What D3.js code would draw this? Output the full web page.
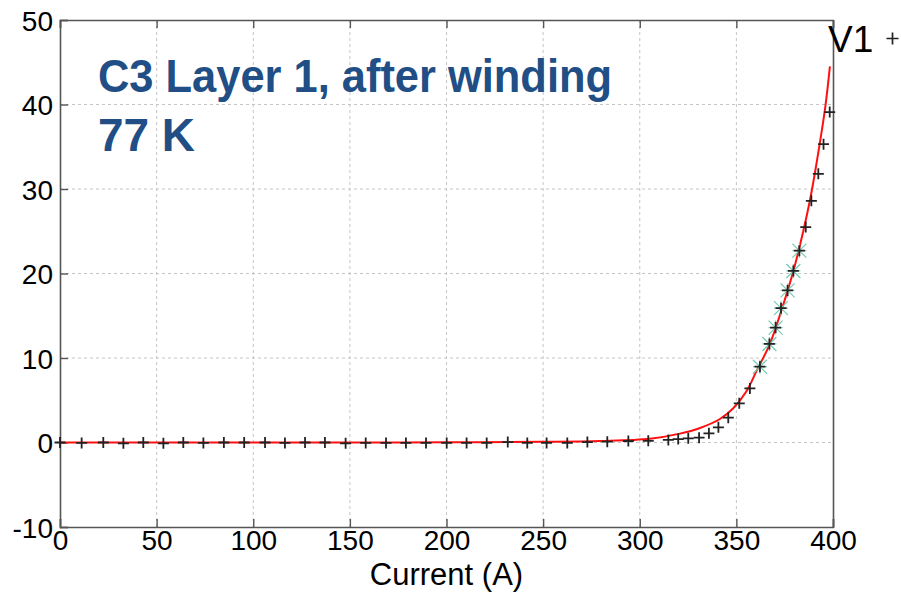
<!DOCTYPE html>
<html>
<head>
<meta charset="utf-8">
<script src="https://cdn.jsdelivr.net/npm/d3@7"></script>
<style>
  html, body { margin: 0; padding: 0; background: #fff; }
  svg { display: block; }
  text { font-family: "Liberation Sans", Arial, sans-serif; }
</style>
</head>
<body>
<svg id="chart" width="901" height="592"></svg>
<script>
// Measured voltage V1 (mV) against transport current (A)
const currentA = [0, 11.2, 22.4, 32.8, 43.1, 53.5, 63.8, 74.2, 84.8, 95.3, 106.1, 116.4,
  126.8, 137.1, 147.8, 158.2, 168.7, 179.0, 189.4, 200.1, 210.4, 220.8, 231.7, 241.8,
  251.8, 262.5, 272.9, 283.2, 294.1, 304.4, 314.8, 319.9, 325.1, 330.7, 335.8, 340.7,
  345.8, 351.5, 357.0, 362.2, 367.1, 370.3, 373.1, 376.5, 379.5, 382.6, 385.9, 388.8,
  392.4, 395.1, 398.3];
const voltageV1 = [0, -0.05, 0, -0.1, 0, -0.1, 0, -0.05, 0, 0, 0, -0.05,
  0, 0, -0.1, -0.05, -0.05, -0.05, -0.05, -0.05, -0.05, -0.05, 0.05, -0.05,
  -0.05, -0.05, 0.05, 0.1, 0.18, 0.2, 0.3, 0.41, 0.5, 0.57, 1.09, 1.8,
  2.94, 4.64, 6.4, 8.97, 11.66, 13.6, 15.9, 18.0, 20.3, 22.7, 25.5, 28.6,
  31.8, 35.3, 39.1];

// Points highlighted by the fit window
const fitCurrent = [362.2, 367.1, 370.3, 373.1, 376.5, 379.5, 382.6];
const fitVoltage = [8.97, 11.66, 13.6, 15.9, 18.0, 20.3, 22.7];

// Fitted transition curve
const curveCurrent = [0, 50, 100, 150, 200, 250, 279.4, 305.3, 320.8, 331.2, 341.5,
  348.4, 355.3, 360.5, 367.4, 373.4, 379.5, 384.6, 388.1, 391.0, 396.0, 398.4];
const curveVoltage = [0, 0, 0, 0, 0.02, 0.08, 0.18, 0.45, 1.05, 1.72, 2.78,
  4.05, 6.1, 8.5, 11.7, 15.7, 20.3, 25.0, 28.7, 32.4, 39.7, 44.5];

const xTicks = [0, 50, 100, 150, 200, 250, 300, 350, 400];
const yTicks = [-10, 0, 10, 20, 30, 40, 50];
const titleLines = ["C3 Layer 1, after winding", "77 K"];
const xLabel = "Current (A)";
const legendLabel = "V1";

const svg = d3.select("#chart");
const plotL = 60, plotR = 833, plotT = 20, plotB = 527;

const x = d3.scaleLinear().domain([0, 400]).range([plotL, plotR]);
const y = d3.scaleLinear().domain([-10, 50]).range([plotB, plotT]);
const plainNumber = d => String(d);

// Dashed grid
const grid = svg.append("g");
grid.selectAll("line.gx").data(xTicks.slice(1, -1)).join("line")
  .attr("x1", d => x(d)).attr("x2", d => x(d))
  .attr("y1", plotT).attr("y2", plotB)
  .attr("stroke", "#c4c4c4").attr("stroke-width", 1).attr("stroke-dasharray", "3,3");
grid.selectAll("line.gy").data(yTicks.slice(1, -1)).join("line")
  .attr("x1", plotL).attr("x2", plotR)
  .attr("y1", d => y(d)).attr("y2", d => y(d))
  .attr("stroke", "#c4c4c4").attr("stroke-width", 1).attr("stroke-dasharray", "3,3");

// Axes with inward ticks
const axisColor = "#555";
const bottomAxis = svg.append("g").attr("transform", `translate(0,${plotB})`)
  .call(d3.axisBottom(x).tickValues(xTicks).tickSize(-8).tickPadding(3).tickFormat(plainNumber));
const topAxis = svg.append("g").attr("transform", `translate(0,${plotT})`)
  .call(d3.axisTop(x).tickValues(xTicks).tickSize(-8).tickFormat(""));
const leftAxis = svg.append("g").attr("transform", `translate(${plotL},0)`)
  .call(d3.axisLeft(y).tickValues(yTicks).tickSize(-8).tickPadding(7).tickFormat(plainNumber));
const rightAxis = svg.append("g").attr("transform", `translate(${plotR},0)`)
  .call(d3.axisRight(y).tickValues(yTicks).tickSize(0).tickFormat(""));

[bottomAxis, topAxis, leftAxis, rightAxis].forEach(g => {
  g.select(".domain").attr("stroke", axisColor).attr("stroke-width", 1.6);
  g.selectAll(".tick line").attr("stroke", axisColor).attr("stroke-width", 1.4);
  g.selectAll(".tick text").attr("fill", "#000").attr("font-size", 28)
    .attr("font-family", "'Liberation Sans', Arial, sans-serif");
});
bottomAxis.selectAll(".tick text").attr("dy", "0.71em");
leftAxis.selectAll(".tick text").attr("dy", "0.36em");

// Fit line
const line = d3.line().x(d => x(d[0])).y(d => y(d[1])).curve(d3.curveCatmullRom.alpha(0.5));
svg.append("path")
  .datum(d3.zip(curveCurrent, curveVoltage))
  .attr("d", line).attr("fill", "none").attr("stroke", "#ff1010").attr("stroke-width", 2);

// Asterisk markers for the fit window
const star = svg.append("g");
d3.zip(fitCurrent, fitVoltage).forEach(([a, v]) => {
  const cx = x(a), cy = y(v), r = 7;
  star.append("path")
    .attr("d", `M${cx - r},${cy - r}L${cx + r},${cy + r}M${cx - r},${cy + r}L${cx + r},${cy - r}M${cx},${cy - r}L${cx},${cy + r}M${cx - r},${cy}L${cx + r},${cy}`)
    .attr("stroke", "#6fcdb4").attr("stroke-width", 1.2).attr("fill", "none");
});

// Plus markers for measured V1
const plus = svg.append("g");
d3.zip(currentA, voltageV1).forEach(([a, v]) => {
  const cx = x(a), cy = y(v), r = 5.5;
  plus.append("path")
    .attr("d", `M${cx - r},${cy}L${cx + r},${cy}M${cx},${cy - r}L${cx},${cy + r}`)
    .attr("stroke", "#222").attr("stroke-width", 1.8).attr("fill", "none");
});

// Axis label
svg.append("text").attr("x", (plotL + plotR) / 2).attr("y", 585)
  .attr("text-anchor", "middle").attr("font-size", 31).attr("fill", "#000")
  .text(xLabel);

// Legend entry
svg.append("text").attr("x", 828).attr("y", 52)
  .attr("font-size", 37).attr("fill", "#000").text(legendLabel);
svg.append("path")
  .attr("d", "M886.5,38.5L898.5,38.5M892.5,32.5L892.5,44.5")
  .attr("stroke", "#222").attr("stroke-width", 1.7);

// Annotation
const title = svg.append("g").attr("fill", "#204e85")
  .attr("font-weight", "bold").attr("font-size", 46)
  .attr("font-family", "Roboto, 'Open Sans', sans-serif");
title.append("text").attr("x", 98).attr("y", 92).text(titleLines[0])
  .attr("textLength", 514).attr("lengthAdjust", "spacingAndGlyphs");
title.append("text").attr("x", 98).attr("y", 151).text(titleLines[1])
  .attr("textLength", 97).attr("lengthAdjust", "spacingAndGlyphs");
</script>
</body>
</html>
